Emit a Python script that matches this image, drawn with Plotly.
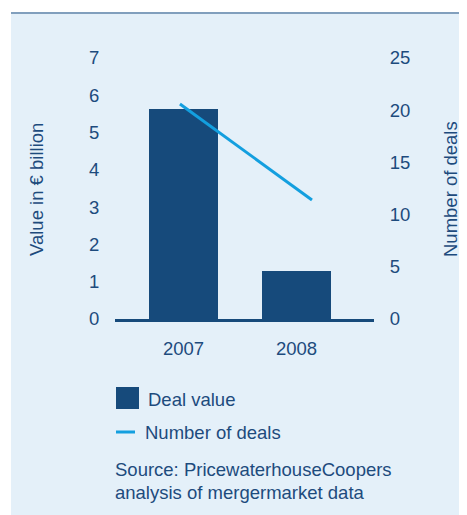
import plotly.graph_objects as go

years = ["2007", "2008"]
deal_value = [5.63, 1.29]        # € billion
number_of_deals = [20.6, 11.4]   # count

TEXT = "#1d4b7d"
BAR = "#164a7b"
LINE = "#139fdf"
BG = "#e4f0f9"
FONT = "Liberation Sans, Arial, sans-serif"
FS = 18.5

OFF = 8  # page body margin
W, H = 467 - OFF, 515 - OFF
L, R, T, B = 115, 374, 58, 319   # plot area in page pixels
pw, ph = R - L, B - T

def px(x):
    return (x - L) / pw

def py(y):
    return (B - y) / ph

fig = go.Figure()
fig.add_trace(go.Bar(x=years, y=deal_value, name="Deal value",
                     marker=dict(color=BAR, line=dict(width=0)),
                     width=0.61, xaxis="x", yaxis="y"))
fig.add_trace(go.Scatter(x=years, y=number_of_deals, name="Number of deals",
                         mode="lines", line=dict(color=LINE, width=3),
                         xaxis="x2", yaxis="y2"))

shapes = [
    dict(type="rect", xref="paper", yref="paper", x0=px(11), x1=px(480),
         y0=py(530), y1=py(13), fillcolor=BG, line=dict(width=0), layer="below"),
    dict(type="line", xref="paper", yref="paper", x0=px(11), x1=px(480),
         y0=py(13), y1=py(13), line=dict(color="#819fbd", width=2), layer="below"),
    # legend keys
    dict(type="rect", xref="paper", yref="paper", x0=px(116), x1=px(139),
         y0=py(409), y1=py(387), fillcolor=BAR, line=dict(width=0)),
    dict(type="line", xref="paper", yref="paper", x0=px(116), x1=px(135),
         y0=py(432), y1=py(432), line=dict(color=LINE, width=3)),
]

ann_font = dict(family=FONT, size=FS, color=TEXT)
annotations = [
    dict(text="Value in € billion", xref="paper", yref="paper", x=px(36), y=py(190),
         textangle=-90, showarrow=False, font=ann_font, xanchor="center", yanchor="middle"),
    dict(text="Number of deals", xref="paper", yref="paper", x=px(450), y=py(189),
         textangle=-90, showarrow=False, font=ann_font, xanchor="center", yanchor="middle"),
    dict(text="Deal value", xref="paper", yref="paper", x=px(146), y=py(399),
         showarrow=False, font=ann_font, xanchor="left", yanchor="middle"),
    dict(text="Number of deals", xref="paper", yref="paper", x=px(143), y=py(432),
         showarrow=False, font=ann_font, xanchor="left", yanchor="middle"),
    dict(text="Source: PricewaterhouseCoopers", xref="paper", yref="paper", x=px(113), y=py(469),
         showarrow=False, font=ann_font, xanchor="left", yanchor="middle"),
    dict(text="analysis of mergermarket data", xref="paper", yref="paper", x=px(113), y=py(492),
         showarrow=False, font=ann_font, xanchor="left", yanchor="middle"),
]

tf = dict(family=FONT, size=FS, color=TEXT)
fig.update_layout(
    width=W, height=H,
    margin=dict(l=L - OFF, r=467 - R, t=T - OFF, b=515 - B, pad=0),
    paper_bgcolor="white", plot_bgcolor=BG,
    showlegend=False,
    font=dict(family=FONT, size=FS, color=TEXT),
    bargap=0,
    xaxis=dict(type="category", range=[-0.606, 1.686], showgrid=False, zeroline=False,
               showline=True, linecolor=BAR, linewidth=2.5,
               ticks="outside", ticklen=11, tickcolor="rgba(0,0,0,0)", tickfont=tf),
    xaxis2=dict(type="category", overlaying="x", range=[-0.492, 1.470], visible=False),
    yaxis=dict(range=[0, 7], dtick=1, showgrid=False, zeroline=False, showline=False,
               ticks="outside", ticklen=11, tickcolor="rgba(0,0,0,0)", tickfont=tf),
    yaxis2=dict(range=[0, 25], dtick=5, overlaying="y", side="right", showgrid=False,
                zeroline=False, showline=False,
                ticks="outside", ticklen=11, tickcolor="rgba(0,0,0,0)", tickfont=tf),
    shapes=shapes,
    annotations=annotations,
)

fig.write_html("out.html")
